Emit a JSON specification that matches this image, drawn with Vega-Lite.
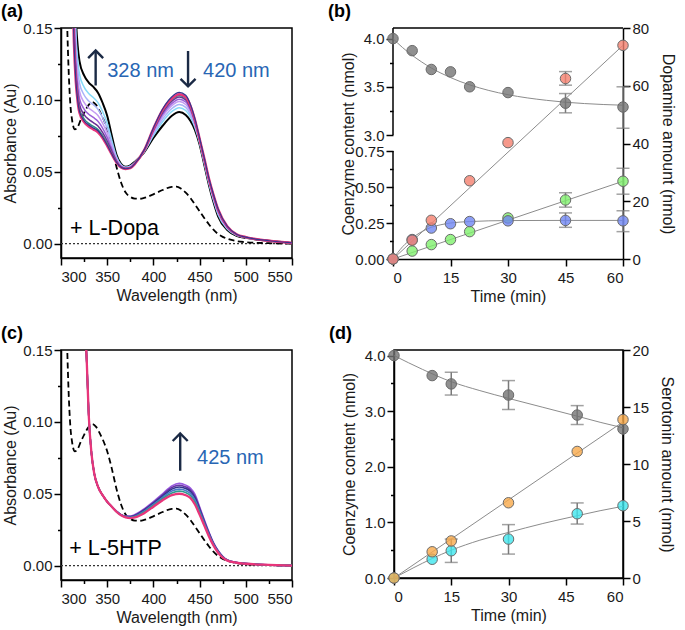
{
"$schema":"https://vega.github.io/schema/vega-lite/v6.json",
"padding":{"left":0,"top":2,"right":2,"bottom":2},
"config":{
 "font":"Liberation Sans",
 "view":{"stroke":"black","strokeWidth":1.5},
 "axis":{"grid":false,"domainColor":"black","domainWidth":1.5,"tickColor":"black","tickWidth":1.5,"labelFontSize":15,"labelColor":"#1a1a1a","titleFontSize":16,"titleFontWeight":"normal","titleColor":"#1a1a1a","labelPadding":2,"labelFont":"Liberation Sans","titleFont":"Liberation Sans","labelOverlap":false},
 "axisX":{"labelPadding":4,"titlePadding":3},
 "title":{"fontSize":18,"fontWeight":"bold","font":"Liberation Sans","anchor":"start","frame":"group","color":"black"}
},
"datasets":{
 "dash":[{"w":303,"v":0.3},{"w":305,"v":0.2},{"w":306,"v":0.17},{"w":308,"v":0.125},{"w":310,"v":0.098},{"w":312,"v":0.086},{"w":315,"v":0.0795},{"w":318,"v":0.081},{"w":321,"v":0.0855},{"w":325,"v":0.091},{"w":330,"v":0.0965},{"w":334,"v":0.0985},{"w":338,"v":0.0965},{"w":342,"v":0.092},{"w":346,"v":0.0865},{"w":350,"v":0.0795},{"w":355,"v":0.0675},{"w":360,"v":0.0535},{"w":365,"v":0.0425},{"w":370,"v":0.0355},{"w":375,"v":0.0325},{"w":380,"v":0.0313},{"w":385,"v":0.0312},{"w":390,"v":0.0318},{"w":400,"v":0.0343},{"w":410,"v":0.0373},{"w":420,"v":0.0395},{"w":425,"v":0.0396},{"w":430,"v":0.0382},{"w":435,"v":0.0355},{"w":440,"v":0.0318},{"w":445,"v":0.0272},{"w":450,"v":0.0225},{"w":455,"v":0.0178},{"w":460,"v":0.0135},{"w":465,"v":0.0097},{"w":470,"v":0.0067},{"w":475,"v":0.0047},{"w":480,"v":0.0034},{"w":490,"v":0.0017},{"w":500,"v":0.001},{"w":525,"v":0.0003},{"w":550,"v":0}],
 "specA":[
  {"w":312,"k":0.30,"c1":0.2725,"c2":0.2538,"c3":0.2362,"c4":0.2208,"c5":0.2076,"c6":0.1977,"c7":0.192,"p":0.19},
  {"w":314,"k":0.22,"c1":0.20,"c2":0.1864,"c3":0.1736,"c4":0.1624,"c5":0.1528,"c6":0.1456,"c7":0.1415,"p":0.14},
  {"w":316,"k":0.16,"c1":0.1483,"c2":0.1403,"c3":0.1327,"c4":0.1262,"c5":0.1205,"c6":0.1163,"c7":0.1142,"p":0.113},
  {"w":318,"k":0.138,"c1":0.1283,"c2":0.1216,"c3":0.1154,"c4":0.1099,"c5":0.1052,"c6":0.1017,"c7":0.1,"p":0.099},
  {"w":320,"k":0.127,"c1":0.118,"c2":0.1119,"c3":0.1061,"c4":0.1011,"c5":0.0968,"c6":0.0935,"c7":0.092,"p":0.091},
  {"w":325,"k":0.117,"c1":0.1089,"c2":0.1034,"c3":0.0982,"c4":0.0936,"c5":0.0897,"c6":0.0868,"c7":0.0855,"p":0.0845},
  {"w":330,"k":0.112,"c1":0.1044,"c2":0.0992,"c3":0.0943,"c4":0.09,"c5":0.0864,"c6":0.0836,"c7":0.0825,"p":0.0815},
  {"w":335,"k":0.109,"c1":0.1016,"c2":0.0966,"c3":0.0919,"c4":0.0878,"c5":0.0842,"c6":0.0816,"c7":0.0805,"p":0.0795},
  {"w":340,"k":0.105,"c1":0.0981,"c2":0.0935,"c3":0.0891,"c4":0.0852,"c5":0.0819,"c6":0.0794,"c7":0.0785,"p":0.0775},
  {"w":345,"k":0.098,"c1":0.0919,"c2":0.0877,"c3":0.0838,"c4":0.0804,"c5":0.0774,"c6":0.0752,"c7":0.0742,"p":0.0735},
  {"w":350,"k":0.089,"c1":0.0838,"c2":0.0802,"c3":0.0768,"c4":0.0739,"c5":0.0714,"c6":0.0695,"c7":0.0686,"p":0.068},
  {"w":355,"k":0.075,"c1":0.0718,"c2":0.0695,"c3":0.0675,"c4":0.0656,"c5":0.0641,"c6":0.0629,"c7":0.0623,"p":0.062},
  {"w":360,"k":0.062,"c1":0.0606,"c2":0.0597,"c3":0.0588,"c4":0.058,"c5":0.0574,"c6":0.0569,"c7":0.0567,"p":0.0565},
  {"w":365,"k":0.0555,"c1":0.0549,"c2":0.0545,"c3":0.0541,"c4":0.0537,"c5":0.0534,"c6":0.0532,"c7":0.0531,"p":0.053},
  {"w":370,"k":0.0535,"c1":0.0531,"c2":0.0529,"c3":0.0526,"c4":0.0524,"c5":0.0522,"c6":0.0521,"c7":0.0521,"p":0.052},
  {"w":375,"k":0.0545,"c1":0.054,"c2":0.0537,"c3":0.0533,"c4":0.0531,"c5":0.0528,"c6":0.0526,"c7":0.0526,"p":0.0525},
  {"w":380,"k":0.057,"c1":0.0566,"c2":0.0564,"c3":0.0561,"c4":0.0559,"c5":0.0557,"c6":0.0556,"c7":0.0556,"p":0.0555},
  {"w":390,"k":0.0635,"c1":0.0639,"c2":0.0641,"c3":0.0644,"c4":0.0646,"c5":0.0648,"c6":0.0649,"c7":0.0652,"p":0.065},
  {"w":400,"k":0.0735,"c1":0.0751,"c2":0.0762,"c3":0.0773,"c4":0.0782,"c5":0.079,"c6":0.0795,"c7":0.0805,"p":0.08},
  {"w":410,"k":0.082,"c1":0.0848,"c2":0.0866,"c3":0.0884,"c4":0.0899,"c5":0.0912,"c6":0.0922,"c7":0.0937,"p":0.093},
  {"w":420,"k":0.089,"c1":0.092,"c2":0.094,"c3":0.096,"c4":0.0976,"c5":0.0991,"c6":0.1002,"c7":0.1022,"p":0.101},
  {"w":428,"k":0.0915,"c1":0.0946,"c2":0.0968,"c3":0.0988,"c4":0.1005,"c5":0.102,"c6":0.1031,"c7":0.1052,"p":0.104},
  {"w":435,"k":0.0895,"c1":0.0926,"c2":0.0948,"c3":0.0968,"c4":0.0985,"c5":0.1,"c6":0.1011,"c7":0.1032,"p":0.102},
  {"w":440,"k":0.0855,"c1":0.0881,"c2":0.0899,"c3":0.0916,"c4":0.0931,"c5":0.0943,"c6":0.0953,"c7":0.097,"p":0.096},
  {"w":445,"k":0.079,"c1":0.0808,"c2":0.0819,"c3":0.0831,"c4":0.084,"c5":0.0849,"c6":0.0855,"c7":0.0868,"p":0.086},
  {"w":450,"k":0.069,"c1":0.07,"c2":0.0707,"c3":0.0713,"c4":0.0719,"c5":0.0724,"c6":0.0727,"c7":0.0735,"p":0.073},
  {"w":455,"k":0.055,"c1":0.0561,"c2":0.0569,"c3":0.0576,"c4":0.0582,"c5":0.0588,"c6":0.0592,"c7":0.0598,"p":0.0595},
  {"w":460,"k":0.041,"c1":0.0421,"c2":0.0429,"c3":0.0436,"c4":0.0442,"c5":0.0448,"c6":0.0452,"c7":0.0457,"p":0.0455},
  {"w":465,"k":0.029,"c1":0.0303,"c2":0.0311,"c3":0.0319,"c4":0.0326,"c5":0.0332,"c6":0.0337,"c7":0.0342,"p":0.034},
  {"w":470,"k":0.019,"c1":0.0203,"c2":0.0211,"c3":0.0219,"c4":0.0226,"c5":0.0232,"c6":0.0237,"c7":0.0242,"p":0.024},
  {"w":480,"k":0.0095,"c1":0.0101,"c2":0.0106,"c3":0.011,"c4":0.0113,"c5":0.0116,"c6":0.0118,"c7":0.0121,"p":0.012},
  {"w":490,"k":0.0055,"c1":0.0058,"c2":0.0059,"c3":0.0061,"c4":0.0062,"c5":0.0063,"c6":0.0064,"c7":0.0065,"p":0.0065},
  {"w":500,"k":0.004,"c1":0.0042,"c2":0.0042,"c3":0.0043,"c4":0.0043,"c5":0.0044,"c6":0.0044,"c7":0.0045,"p":0.0045},
  {"w":525,"k":0.002,"c1":0.002,"c2":0.002,"c3":0.002,"c4":0.002,"c5":0.002,"c6":0.002,"c7":0.002,"p":0.002},
  {"w":550,"k":0.0005,"c1":0.0005,"c2":0.0005,"c3":0.0005,"c4":0.0005,"c5":0.0005,"c6":0.0005,"c7":0.0005,"p":0.0005}
 ],
 "specC":[
  {"w":326,"p":0.17,"g1":0.17,"g2":0.17,"g3":0.17,"g4":0.17,"t":0.17},
  {"w":328,"p":0.14,"g1":0.14,"g2":0.14,"g3":0.14,"g4":0.14,"t":0.14},
  {"w":330,"p":0.105,"g1":0.105,"g2":0.105,"g3":0.105,"g4":0.105,"t":0.105},
  {"w":333,"p":0.078,"g1":0.078,"g2":0.078,"g3":0.078,"g4":0.078,"t":0.078},
  {"w":336,"p":0.064,"g1":0.064,"g2":0.064,"g3":0.064,"g4":0.064,"t":0.064},
  {"w":340,"p":0.055,"g1":0.055,"g2":0.055,"g3":0.055,"g4":0.055,"t":0.055},
  {"w":345,"p":0.049,"g1":0.049,"g2":0.049,"g3":0.049,"g4":0.049,"t":0.049},
  {"w":350,"p":0.0445,"g1":0.0445,"g2":0.0445,"g3":0.0445,"g4":0.0445,"t":0.0445},
  {"w":355,"p":0.041,"g1":0.041,"g2":0.041,"g3":0.041,"g4":0.041,"t":0.041},
  {"w":360,"p":0.0375,"g1":0.0376,"g2":0.0377,"g3":0.0378,"g4":0.0379,"t":0.038},
  {"w":365,"p":0.035,"g1":0.0351,"g2":0.0352,"g3":0.0353,"g4":0.0354,"t":0.0355},
  {"w":370,"p":0.0335,"g1":0.0338,"g2":0.034,"g3":0.0342,"g4":0.0343,"t":0.0345},
  {"w":375,"p":0.033,"g1":0.0334,"g2":0.0337,"g3":0.034,"g4":0.0342,"t":0.0345},
  {"w":380,"p":0.0335,"g1":0.034,"g2":0.0344,"g3":0.0348,"g4":0.0351,"t":0.0355},
  {"w":390,"p":0.0365,"g1":0.0373,"g2":0.0379,"g3":0.0385,"g4":0.039,"t":0.0395},
  {"w":400,"p":0.041,"g1":0.0419,"g2":0.0426,"g3":0.0433,"g4":0.0439,"t":0.0445},
  {"w":410,"p":0.0455,"g1":0.0466,"g2":0.0475,"g3":0.0484,"g4":0.0492,"t":0.05},
  {"w":420,"p":0.049,"g1":0.0506,"g2":0.0519,"g3":0.0532,"g4":0.0543,"t":0.0555},
  {"w":428,"p":0.05,"g1":0.0518,"g2":0.0532,"g3":0.0547,"g4":0.0559,"t":0.0572},
  {"w":435,"p":0.049,"g1":0.0508,"g2":0.0522,"g3":0.0536,"g4":0.0547,"t":0.056},
  {"w":440,"p":0.047,"g1":0.0488,"g2":0.0502,"g3":0.0516,"g4":0.0527,"t":0.054},
  {"w":445,"p":0.0425,"g1":0.0443,"g2":0.0457,"g3":0.0471,"g4":0.0482,"t":0.0495},
  {"w":450,"p":0.0355,"g1":0.0369,"g2":0.038,"g3":0.0391,"g4":0.04,"t":0.041},
  {"w":455,"p":0.028,"g1":0.029,"g2":0.0298,"g3":0.0306,"g4":0.0313,"t":0.032},
  {"w":460,"p":0.0205,"g1":0.0213,"g2":0.0219,"g3":0.0225,"g4":0.023,"t":0.0235},
  {"w":465,"p":0.014,"g1":0.0145,"g2":0.0149,"g3":0.0153,"g4":0.0156,"t":0.016},
  {"w":470,"p":0.009,"g1":0.0094,"g2":0.0097,"g3":0.01,"g4":0.0102,"t":0.0105},
  {"w":475,"p":0.0055,"g1":0.0058,"g2":0.006,"g3":0.0062,"g4":0.0063,"t":0.0065},
  {"w":480,"p":0.0035,"g1":0.0036,"g2":0.0037,"g3":0.0038,"g4":0.0039,"t":0.004},
  {"w":490,"p":0.002,"g1":0.002,"g2":0.0021,"g3":0.0021,"g4":0.0022,"t":0.0022},
  {"w":500,"p":0.0013,"g1":0.0013,"g2":0.0014,"g3":0.0014,"g4":0.0015,"t":0.0015},
  {"w":525,"p":0.0005,"g1":0.0005,"g2":0.0005,"g3":0.0005,"g4":0.0005,"t":0.0005},
  {"w":550,"p":0,"g1":0,"g2":0,"g3":0,"g4":0,"t":0}
 ],
 "fitB":[
  {"s":"gray","t":0,"v":4.0},{"s":"gray","t":2.5,"v":3.907},{"s":"gray","t":5,"v":3.827},{"s":"gray","t":7.5,"v":3.757},{"s":"gray","t":10,"v":3.695},{"s":"gray","t":12.5,"v":3.642},{"s":"gray","t":15,"v":3.596},{"s":"gray","t":17.5,"v":3.555},{"s":"gray","t":20,"v":3.52},{"s":"gray","t":25,"v":3.462},{"s":"gray","t":30,"v":3.418},{"s":"gray","t":35,"v":3.385},{"s":"gray","t":40,"v":3.36},{"s":"gray","t":45,"v":3.34},{"s":"gray","t":50,"v":3.326},{"s":"gray","t":55,"v":3.316},{"s":"gray","t":60,"v":3.309},
  {"s":"blue","t":0,"v":0},{"s":"blue","t":2.5,"v":0.085},{"s":"blue","t":5,"v":0.145},{"s":"blue","t":7.5,"v":0.19},{"s":"blue","t":10,"v":0.22},{"s":"blue","t":12.5,"v":0.238},{"s":"blue","t":15,"v":0.25},{"s":"blue","t":20,"v":0.26},{"s":"blue","t":25,"v":0.265},{"s":"blue","t":30,"v":0.267},{"s":"blue","t":45,"v":0.268},{"s":"blue","t":60,"v":0.268},
  {"s":"green","t":0,"v":0},{"s":"green","t":60,"v":0.54}
 ],
 "ptsB":[
  {"s":"gray","t":0,"v":4.0},{"s":"gray","t":5,"v":3.875},{"s":"gray","t":10,"v":3.68},{"s":"gray","t":15,"v":3.655},{"s":"gray","t":20,"v":3.5},{"s":"gray","t":30,"v":3.44},{"s":"gray","t":45,"v":3.33},{"s":"gray","t":60,"v":3.29},
  {"s":"green","t":0,"v":0},{"s":"green","t":5,"v":0.055},{"s":"green","t":10,"v":0.1},{"s":"green","t":15,"v":0.135},{"s":"green","t":20,"v":0.19},{"s":"green","t":30,"v":0.285},{"s":"green","t":45,"v":0.41},{"s":"green","t":60,"v":0.54},
  {"s":"blue","t":0,"v":0},{"s":"blue","t":5,"v":0.135},{"s":"blue","t":10,"v":0.215},{"s":"blue","t":15,"v":0.245},{"s":"blue","t":20,"v":0.26},{"s":"blue","t":30,"v":0.265},{"s":"blue","t":45,"v":0.268},{"s":"blue","t":60,"v":0.265}
 ],
 "errB":[
  {"t":45,"v":3.23,"v2":3.43},{"t":60,"v":3.07,"v2":3.5},
  {"t":45,"v":0.22,"v2":0.32},{"t":60,"v":0.19,"v2":0.335},
  {"t":45,"v":0.36,"v2":0.46},{"t":60,"v":0.45,"v2":0.63}
 ],
 "ptsBr":[{"t":0,"v":0},{"t":5,"v":6.5},{"t":10,"v":13.4},{"t":20,"v":27.1},{"t":30,"v":40.3},{"t":45,"v":62.5},{"t":60,"v":74.0}],
 "errBr":[{"t":45,"v":60.2,"v2":64.9}],
 "fitBr":[{"t":0,"v":0},{"t":60,"v":74}],
 "fitD":[
  {"s":"gray","t":0,"v":4.0},{"s":"gray","t":7.5,"v":3.75},{"s":"gray","t":15,"v":3.53},{"s":"gray","t":22.5,"v":3.37},{"s":"gray","t":30,"v":3.23},{"s":"gray","t":39,"v":3.07},{"s":"gray","t":48,"v":2.91},{"s":"gray","t":54,"v":2.8},{"s":"gray","t":60,"v":2.7},
  {"s":"cyan","t":0,"v":0},{"s":"cyan","t":5,"v":0.18},{"s":"cyan","t":10,"v":0.35},{"s":"cyan","t":15,"v":0.5},{"s":"cyan","t":22.5,"v":0.68},{"s":"cyan","t":30,"v":0.82},{"s":"cyan","t":39,"v":0.98},{"s":"cyan","t":48,"v":1.12},{"s":"cyan","t":54,"v":1.21},{"s":"cyan","t":60,"v":1.29}
 ],
 "ptsD":[
  {"s":"gray","t":0,"v":4.0},{"s":"gray","t":10,"v":3.64},{"s":"gray","t":15,"v":3.49},{"s":"gray","t":30,"v":3.29},{"s":"gray","t":48,"v":2.93},{"s":"gray","t":60,"v":2.68},
  {"s":"cyan","t":0,"v":0},{"s":"cyan","t":10,"v":0.337},{"s":"cyan","t":15,"v":0.49},{"s":"cyan","t":30,"v":0.7},{"s":"cyan","t":48,"v":1.155},{"s":"cyan","t":60,"v":1.3}
 ],
 "errD":[
  {"t":15,"v":3.29,"v2":3.7},{"t":30,"v":3.03,"v2":3.55},{"t":48,"v":2.76,"v2":3.1},
  {"t":15,"v":0.28,"v2":0.7},{"t":30,"v":0.43,"v2":0.96},{"t":48,"v":0.97,"v2":1.35}
 ],
 "ptsDr":[{"t":0,"v":0},{"t":10,"v":2.3},{"t":15,"v":3.25},{"t":30,"v":6.6},{"t":48,"v":11.1},{"t":60,"v":13.9}],
 "fitDr":[{"t":0,"v":0},{"t":60,"v":13.7}]
},
"resolve":{"scale":{"color":"independent"}},
"vconcat":[
 {"hconcat":[
  {
   "width":231,"height":230,
   "title":{"text":"(a)","dx":-60,"offset":0},
   "encoding":{
    "x":{"field":"w","type":"quantitative","scale":{"domain":[300,550],"nice":false,"zero":false},
     "axis":{"title":"Wavelength (nm)","values":[300,325,350,375,400,425,450,475,500,525,550],"labelExpr":"datum.value % 50 === 0 ? datum.label : ''","tickSize":{"condition":{"test":"datum.value % 50 !== 0","value":3.5},"value":7}}},
    "y":{"field":"v","type":"quantitative","scale":{"domain":[-0.01,0.15],"nice":false,"zero":false},
     "axis":{"title":"Absorbance (Au)","values":[0,0.025,0.05,0.075,0.1,0.125,0.15],"labelExpr":"round(datum.value*1000) % 50 === 0 ? format(datum.value,'.2f') : ''","tickSize":{"condition":{"test":"round(datum.value*1000) % 50 !== 0","value":3.5},"value":7},"titlePadding":4}}
   },
   "layer":[
    {"data":{"values":[{"w":300,"w2":550,"v":0}]},"mark":{"type":"rule","strokeDash":[2,2],"strokeWidth":1.2,"color":"#333"},"encoding":{"x2":{"field":"w2"}}},
    {"data":{"name":"dash"},"mark":{"type":"line","clip":true,"interpolate":"monotone","strokeDash":[6,3.5],"strokeWidth":1.8,"color":"black"},"encoding":{}},
    {"data":{"name":"specA"},"transform":[{"fold":["k"],"as":["s","v"]}],"mark":{"type":"line","clip":true,"interpolate":"monotone","strokeWidth":2,"color":"black"},"encoding":{}},
    {"data":{"name":"specA"},"transform":[{"fold":["c1","c2","c3","c4","c5","c6"],"as":["s","v"]}],"mark":{"type":"line","clip":true,"interpolate":"monotone","strokeWidth":1.5},"encoding":{"color":{"field":"s","type":"nominal","scale":{"domain":["c1","c2","c3","c4","c5","c6"],"range":["#86d9f7","#a9b4f8","#c49cf2","#9b5fd9","#6b2f94","#2e8b84"]},"legend":null}}},
    {"data":{"name":"specA"},"transform":[{"fold":["p"],"as":["s","v"]}],"mark":{"type":"line","clip":true,"interpolate":"monotone","strokeWidth":2.5,"color":"#e8357a"},"encoding":{}},
    {"data":{"name":"specA"},"transform":[{"fold":["c7"],"as":["s","v"]}],"mark":{"type":"line","clip":true,"interpolate":"monotone","strokeWidth":1.2,"color":"#35358f"},"encoding":{}},
    {"data":{"values":[{"w":337.5,"v":0.11,"v2":0.134},{"w":437.5,"v":0.1095,"v2":0.134}]},"mark":{"type":"rule","strokeWidth":2.4,"color":"#1b2a45"},"encoding":{"y2":{"field":"v2"}}},
    {"data":{"values":[{"w":337.5,"v":0.1343}]},"mark":{"type":"point","shape":"M-1,1L0,0L1,1","filled":false,"strokeWidth":2.4,"color":"#1b2a45","size":225,"opacity":1}},
    {"data":{"values":[{"w":437.5,"v":0.1094}]},"mark":{"type":"point","shape":"M-1,-1L0,0L1,-1","filled":false,"strokeWidth":2.4,"color":"#1b2a45","size":225,"opacity":1}},
    {"data":{"values":[{"w":350,"v":0.1204,"txt":"328 nm"},{"w":453.7,"v":0.1204,"txt":"420 nm"}]},"mark":{"type":"text","align":"left","baseline":"middle","fontSize":20,"color":"#2866b4"},"encoding":{"text":{"field":"txt"}}},
    {"data":{"values":[{"w":309.7,"v":0.0104,"txt":"+ L-Dopa"}]},"mark":{"type":"text","align":"left","baseline":"middle","fontSize":21.5,"color":"black"},"encoding":{"text":{"field":"txt"}}}
   ]
  },
  {
   "width":230,"height":231,
   "view":{"stroke":null},
   "title":{"text":"(b)","dx":-65,"offset":0},
   "layer":[
    {
     "encoding":{
      "x":{"field":"t","type":"quantitative","scale":{"domain":[0,60],"nice":false,"zero":false},
       "axis":{"title":"Time (min)","values":[0,7.5,15,22.5,30,37.5,45,52.5,60],"labelExpr":"datum.value % 15 === 0 ? datum.label : ''","tickSize":{"condition":{"test":"datum.value % 15 !== 0","value":3.5},"value":7}}},
      "y":{"field":"v","type":"quantitative","scale":{"domain":[0,0.75,3,4.11],"range":[231,123,107,0],"nice":false,"zero":false},
       "axis":{"orient":"left","title":"Coenzyme content (nmol)","domain":false,"values":[0,0.125,0.25,0.375,0.5,0.625,0.75,3,3.25,3.5,3.75,4],"labelExpr":"datum.value >= 3 ? (round(datum.value*100) % 50 === 0 ? format(datum.value,'.1f') : '') : (round(datum.value*1000) % 250 === 0 ? format(datum.value,'.2f') : '')","tickSize":{"condition":{"test":"(datum.value >= 3 && round(datum.value*100) % 50 !== 0) || (datum.value < 3 && round(datum.value*1000) % 250 !== 0)","value":3.5},"value":7},"titleX":-37}}
     },
     "layer":[
      {"data":{"values":[{"t":0,"t2":60,"v":4.11}]},"mark":{"type":"rule","color":"black","strokeWidth":1.5},"encoding":{"x2":{"field":"t2"}}},
      {"data":{"values":[{"t":0,"v":0,"v2":0.75},{"t":0,"v":3,"v2":4.11}]},"mark":{"type":"rule","color":"black","strokeWidth":1.5},"encoding":{"y2":{"field":"v2"}}},
      {"data":{"name":"fitB"},"mark":{"type":"line","color":"#8c8c8c","strokeWidth":1,"interpolate":"monotone"},"encoding":{"detail":{"field":"s"}}},
      {"data":{"name":"errB"},"mark":{"type":"rule","color":"#7a7a7a","strokeWidth":1.5},"encoding":{"y2":{"field":"v2"}}},
      {"data":{"name":"errB"},"transform":[{"fold":["v","v2"],"as":["k","v"]}],"mark":{"type":"tick","orient":"horizontal","size":13,"thickness":1.5,"color":"#7a7a7a"},"encoding":{}},
      {"data":{"name":"ptsB"},"mark":{"type":"circle","size":110,"fillOpacity":0.8,"opacity":1,"stroke":"#6a6a6a","strokeWidth":1},"encoding":{"color":{"field":"s","type":"nominal","scale":{"domain":["gray","blue","green"],"range":["#747474","#6f86f2","#7ff06d"]},"legend":null}}}
     ]
    },
    {
     "encoding":{
      "x":{"field":"t","type":"quantitative"},
      "y":{"field":"v","type":"quantitative","scale":{"domain":[0,80],"nice":false,"zero":false},
       "axis":{"orient":"right","title":"Dopamine amount (nmol)","values":[0,20,40,60,80],"tickSize":7,"titleX":36}}
     },
     "layer":[
      {"data":{"name":"fitBr"},"mark":{"type":"line","color":"#8c8c8c","strokeWidth":1},"encoding":{}},
      {"data":{"name":"errBr"},"mark":{"type":"rule","color":"#7a7a7a","strokeWidth":1.5},"encoding":{"y2":{"field":"v2"}}},
      {"data":{"name":"errBr"},"transform":[{"fold":["v","v2"],"as":["k","v"]}],"mark":{"type":"tick","orient":"horizontal","size":13,"thickness":1.5,"color":"#7a7a7a"},"encoding":{}},
      {"data":{"name":"ptsBr"},"mark":{"type":"circle","size":110,"fillOpacity":0.8,"opacity":1,"stroke":"#6a6a6a","strokeWidth":1,"color":"#f47f6e"},"encoding":{}}
     ]
    }
   ],
   "resolve":{"scale":{"y":"independent"}}
  }
 ],"spacing":34,"resolve":{"scale":{"color":"independent"}}},
 {"hconcat":[
  {
   "width":231,"height":230,
   "title":{"text":"(c)","dx":-60,"offset":0},
   "encoding":{
    "x":{"field":"w","type":"quantitative","scale":{"domain":[300,550],"nice":false,"zero":false},
     "axis":{"title":"Wavelength (nm)","values":[300,325,350,375,400,425,450,475,500,525,550],"labelExpr":"datum.value % 50 === 0 ? datum.label : ''","tickSize":{"condition":{"test":"datum.value % 50 !== 0","value":3.5},"value":7}}},
    "y":{"field":"v","type":"quantitative","scale":{"domain":[-0.01,0.15],"nice":false,"zero":false},
     "axis":{"title":"Absorbance (Au)","values":[0,0.025,0.05,0.075,0.1,0.125,0.15],"labelExpr":"round(datum.value*1000) % 50 === 0 ? format(datum.value,'.2f') : ''","tickSize":{"condition":{"test":"round(datum.value*1000) % 50 !== 0","value":3.5},"value":7},"titlePadding":4}}
   },
   "layer":[
    {"data":{"values":[{"w":300,"w2":550,"v":0}]},"mark":{"type":"rule","strokeDash":[2,2],"strokeWidth":1.2,"color":"#333"},"encoding":{"x2":{"field":"w2"}}},
    {"data":{"name":"dash"},"mark":{"type":"line","clip":true,"interpolate":"monotone","strokeDash":[6,3.5],"strokeWidth":1.8,"color":"black"},"encoding":{}},
    {"data":{"name":"specC"},"transform":[{"fold":["t","g4","g3","g2","g1"],"as":["s","v"]}],"mark":{"type":"line","clip":true,"interpolate":"monotone","strokeWidth":1.6},"encoding":{"color":{"field":"s","type":"nominal","scale":{"domain":["t","g4","g3","g2","g1"],"range":["#9a5ae0","#6a35a5","#33338f","#4a78c8","#2e9a8e"]},"legend":null}}},
    {"data":{"name":"specC"},"transform":[{"fold":["p"],"as":["s","v"]}],"mark":{"type":"line","clip":true,"interpolate":"monotone","strokeWidth":2.3,"color":"#e8357a"},"encoding":{}},
    {"data":{"values":[{"w":429,"v":0.066,"v2":0.0915}]},"mark":{"type":"rule","strokeWidth":2.4,"color":"#1b2a45"},"encoding":{"y2":{"field":"v2"}}},
    {"data":{"values":[{"w":429,"v":0.0919}]},"mark":{"type":"point","shape":"M-1,1L0,0L1,1","filled":false,"strokeWidth":2.4,"color":"#1b2a45","size":225,"opacity":1}},
    {"data":{"values":[{"w":447.2,"v":0.0752,"txt":"425 nm"}]},"mark":{"type":"text","align":"left","baseline":"middle","fontSize":20,"color":"#2866b4"},"encoding":{"text":{"field":"txt"}}},
    {"data":{"values":[{"w":309,"v":0.0116,"txt":"+ L-5HTP"}]},"mark":{"type":"text","align":"left","baseline":"middle","fontSize":21.5,"color":"black"},"encoding":{"text":{"field":"txt"}}}
   ]
  },
  {
   "width":229,"height":228,
   "title":{"text":"(d)","dx":-65,"offset":0},
   "layer":[
    {
     "encoding":{
      "x":{"field":"t","type":"quantitative","scale":{"domain":[0,60],"nice":false,"zero":false},
       "axis":{"title":"Time (min)","values":[0,7.5,15,22.5,30,37.5,45,52.5,60],"labelExpr":"datum.value % 15 === 0 ? datum.label : ''","tickSize":{"condition":{"test":"datum.value % 15 !== 0","value":3.5},"value":7}}},
      "y":{"field":"v","type":"quantitative","scale":{"domain":[0,4.1],"nice":false,"zero":false},
       "axis":{"orient":"left","title":"Coenzyme content (nmol)","values":[0,0.5,1,1.5,2,2.5,3,3.5,4],"labelExpr":"round(datum.value*10) % 10 === 0 ? format(datum.value,'.1f') : ''","tickSize":{"condition":{"test":"round(datum.value*10) % 10 !== 0","value":3.5},"value":7},"titleX":-37}}
     },
     "layer":[
      {"data":{"name":"fitD"},"mark":{"type":"line","color":"#8c8c8c","strokeWidth":1,"interpolate":"monotone"},"encoding":{"detail":{"field":"s"}}},
      {"data":{"name":"errD"},"mark":{"type":"rule","color":"#7a7a7a","strokeWidth":1.5},"encoding":{"y2":{"field":"v2"}}},
      {"data":{"name":"errD"},"transform":[{"fold":["v","v2"],"as":["k","v"]}],"mark":{"type":"tick","orient":"horizontal","size":13,"thickness":1.5,"color":"#7a7a7a"},"encoding":{}},
      {"data":{"name":"ptsD"},"mark":{"type":"circle","size":110,"fillOpacity":0.8,"opacity":1,"stroke":"#6a6a6a","strokeWidth":1},"encoding":{"color":{"field":"s","type":"nominal","scale":{"domain":["gray","cyan"],"range":["#747474","#3fe6ee"]},"legend":null}}}
     ]
    },
    {
     "encoding":{
      "x":{"field":"t","type":"quantitative"},
      "y":{"field":"v","type":"quantitative","scale":{"domain":[0,20],"nice":false,"zero":false},
       "axis":{"orient":"right","title":"Serotonin amount (nmol)","values":[0,5,10,15,20],"tickSize":7,"titleX":35}}
     },
     "layer":[
      {"data":{"name":"fitDr"},"mark":{"type":"line","color":"#8c8c8c","strokeWidth":1},"encoding":{}},
      {"data":{"name":"ptsDr"},"mark":{"type":"circle","size":110,"fillOpacity":0.8,"opacity":1,"stroke":"#6a6a6a","strokeWidth":1,"color":"#f7a94a"},"encoding":{}}
     ]
    }
   ],
   "resolve":{"scale":{"y":"independent"}}
  }
 ],"spacing":34,"resolve":{"scale":{"color":"independent"}}}
],
"spacing":20
}
